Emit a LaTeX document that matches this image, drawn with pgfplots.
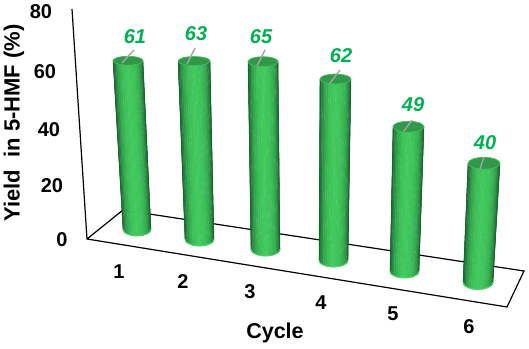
\documentclass[border=0pt]{standalone}
\usepackage{fontspec}
\setmainfont{Liberation Sans}
\usepackage{pgfplots}
\usepackage{pgfplotstable}
\pgfplotsset{compat=1.18}
\definecolor{vgreen}{RGB}{0,176,80}
\definecolor{capc}{RGB}{48,152,72}
\definecolor{rimc}{RGB}{66,190,92}
\definecolor{botc}{RGB}{76,214,104}
\definecolor{leadc}{RGB}{165,165,165}
\tikzset{lab/.style={font=\fontsize{20}{20}\selectfont\bfseries,inner sep=0pt,anchor=center},
         val/.style={font=\fontsize{20}{20}\selectfont\bfseries\itshape,text=vgreen,inner sep=0pt,anchor=center}}
\pgfplotstableread{
u v o
-1 0 0
-0.988 0 0
-0.951 0 0
-0.891 0 0
-0.809 0 0
-0.707 0 0
-0.588 0 0
-0.454 0 0
-0.309 0 0
-0.156 0 0
0 0 0
0.156 0 0
0.309 0 0
0.454 0 0
0.588 0 0
0.707 0 0
0.809 0 0
0.891 0 0
0.951 0 0
0.988 0 0
1 0 0
-1 1 0
-0.988 1 0.156
-0.951 1 0.309
-0.891 1 0.454
-0.809 1 0.588
-0.707 1 0.707
-0.588 1 0.809
-0.454 1 0.891
-0.309 1 0.951
-0.156 1 0.988
0 1 1
0.156 1 0.988
0.309 1 0.951
0.454 1 0.891
0.588 1 0.809
0.707 1 0.707
0.809 1 0.588
0.891 1 0.454
0.951 1 0.309
0.988 1 0.156
1 1 0
}\tmpl
\pgfplotstableread{
c s z
1 0 0
0.92 0.38 0
0.71 0.71 0
0.38 0.92 0
0 1 0
-0.38 0.92 0
-0.71 0.71 0
-0.92 0.38 0
-1 0 0
-0.92 -0.38 0
-0.71 -0.71 0
-0.38 -0.92 0
0 -1 0
0.38 -0.92 0
0.71 -0.71 0
0.92 -0.38 0
1 0 0
}\ring
\pgfplotstableread{
u o z
-1 0 0
-0.951 0.309 0
-0.809 0.588 0
-0.588 0.809 0
-0.309 0.951 0
0 1 0
0.309 0.951 0
0.588 0.809 0
0.809 0.588 0
0.951 0.309 0
1 0 0
}\bott
% #1 value #2 xb #3 yb #4 px per % #5 lean per % #6 half width bottom #7 half width top #8 cap b #9 bottom b
\newcommand\cyl[9]{%
\addplot3[surf,shader=flat,mesh/cols=21,z buffer=none,point meta={(\thisrow{u}+1)*100}] table[
  x expr={#2+#5*#1*(1-\thisrow{v})+\thisrow{u}*(#6+(#7-#6)*(1-\thisrow{v}))},
  y expr={#3-#4*#1*(1-\thisrow{v})+#9*\thisrow{o}},z expr=0]{\tmpl};
\addplot3[no marks,draw=botc,line width=0.9pt] table[x expr={#2+#6*\thisrow{u}},y expr={#3+#9*\thisrow{o}},z expr=0]{\bott};
\addplot3[no marks,fill=capc,draw=rimc,line width=0.7pt] table[x expr={#2+#5*#1+#7*\thisrow{c}},y expr={#3-#4*#1+#8*\thisrow{s}},z expr=0]{\ring};
}
\begin{document}
\begin{tikzpicture}
\begin{axis}[scale only axis,width=529pt,height=349pt,xmin=0,xmax=529,ymin=0,ymax=349,zmin=-1,zmax=1,
  y dir=reverse,view={0}{90},hide axis,clip=false,
  colormap={cyl}{rgb255(0)=(20,88,44) rgb255(10)=(34,118,56) rgb255(30)=(50,160,75) rgb255(60)=(60,190,88) rgb255(100)=(67,202,94) rgb255(140)=(62,194,90) rgb255(170)=(52,172,80) rgb255(190)=(40,134,62) rgb255(200)=(22,96,46)},
  point meta min=0,point meta max=200]
\path (axis cs:0,0,0) rectangle (axis cs:529,349,0);
% floor and axis lines
\addplot3[no marks,black,line width=1.2pt] coordinates {(72,9,0)(87,239,0)(507,307,0)(524,271,0)(123,210,0)(87,239,0)};
\cyl{61}{137}{229}{2.759}{-0.148}{14}{15}{4.5}{7}
\cyl{63}{199.5}{239}{2.825}{-0.087}{14.5}{16}{4.5}{7}
\cyl{65}{265.5}{249}{2.882}{-0.038}{14.5}{15}{5}{7}
\cyl{62}{333.5}{260}{2.919}{0.032}{14.5}{15.5}{5}{7}
\cyl{49}{404.5}{271}{2.945}{0.082}{14.5}{15.5}{5.5}{7}
\cyl{40}{478}{282}{2.968}{0.15}{15}{16}{6}{7.5}
% leader lines
\addplot3[no marks,leadc,line width=1.4pt] coordinates {(122,63,0)(134,50,0)};
\addplot3[no marks,leadc,line width=1.4pt] coordinates {(187,64,0)(195,48,0)};
\addplot3[no marks,leadc,line width=1.4pt] coordinates {(257,66,0)(265,50,0)};
\addplot3[no marks,leadc,line width=1.4pt] coordinates {(330,83,0)(340,70,0)};
\addplot3[no marks,leadc,line width=1.4pt] coordinates {(404,131,0)(412,120,0)};
\addplot3[no marks,leadc,line width=1.4pt] coordinates {(480,169,0)(484,157,0)};
% y tick labels
\node[lab] at (axis cs:41,12,0) {80};
\node[lab] at (axis cs:45,72,0) {60};
\node[lab] at (axis cs:49,130,0) {40};
\node[lab] at (axis cs:52,186,0) {20};
\node[lab] at (axis cs:62,240,0) {0};
% x tick labels
\node[lab] at (axis cs:119,272,0) {1};
\node[lab] at (axis cs:183,282,0) {2};
\node[lab] at (axis cs:250,292,0) {3};
\node[lab] at (axis cs:321,303,0) {4};
\node[lab] at (axis cs:393,314,0) {5};
\node[lab] at (axis cs:469,327,0) {6};
% axis titles
\node[lab,font=\fontsize{21.5}{21.5}\selectfont\bfseries] at (axis cs:275,333,0) {Cycle};
\node[lab,font=\fontsize{22}{22}\selectfont\bfseries,rotate=90] at (axis cs:14,123,0) {Yield\ \ in 5-HMF (\%)};
% value labels
\node[val] at (axis cs:135,37,0) {61};
\node[val] at (axis cs:196,34,0) {63};
\node[val] at (axis cs:261,37,0) {65};
\node[val] at (axis cs:341,56,0) {62};
\node[val] at (axis cs:413,105,0) {49};
\node[val] at (axis cs:485,143,0) {40};
\end{axis}
\end{tikzpicture}
\end{document}
